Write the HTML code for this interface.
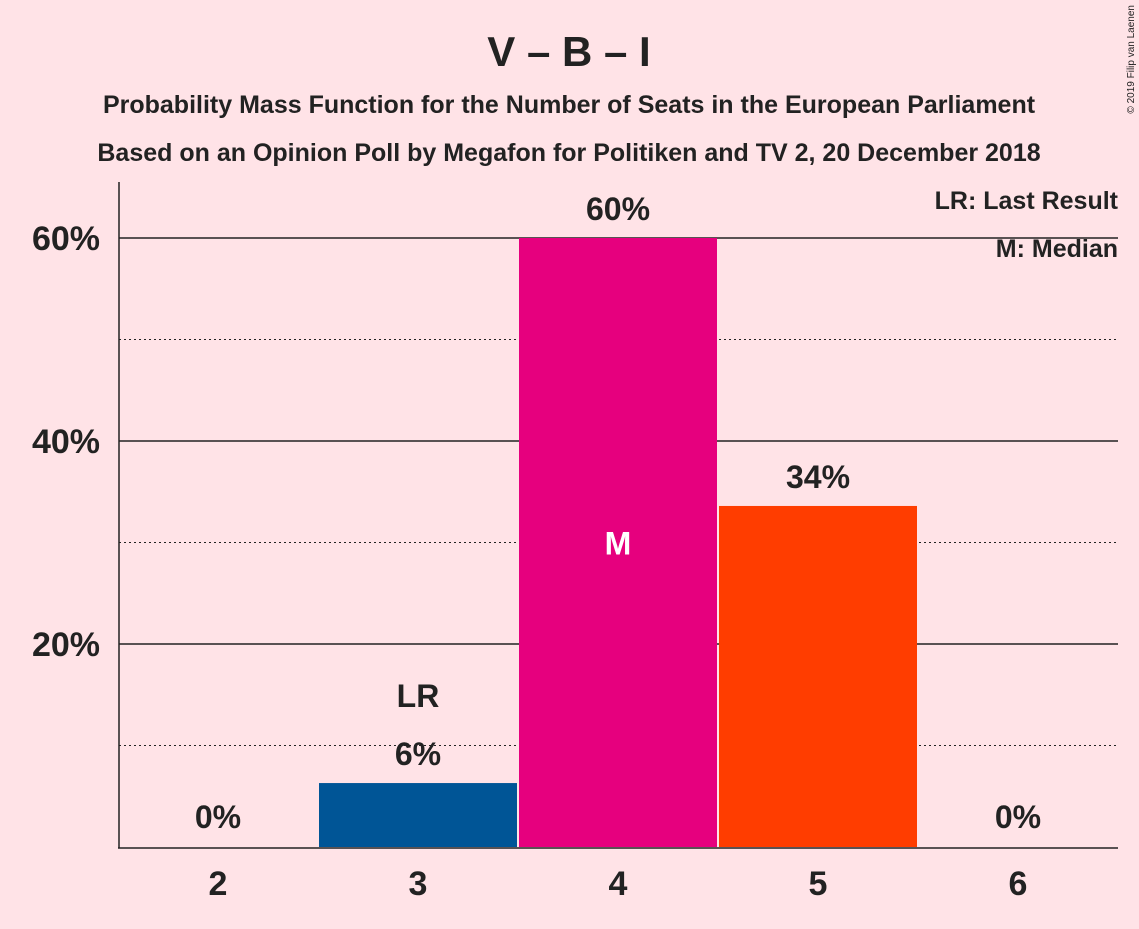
<!DOCTYPE html>
<html><head><meta charset="utf-8"><style>
body{margin:0;background:#ffe3e7;font-family:"Liberation Sans",sans-serif;}
svg text{font-family:"Liberation Sans",sans-serif;fill:#222;}
</style></head><body>
<svg width="1139" height="924" viewBox="0 0 1139 924">
<rect width="1139" height="924" fill="#ffe3e7"/>
<text x="569" y="66" text-anchor="middle" font-size="42" font-weight="bold">V – B – I</text>
<text x="569" y="113" text-anchor="middle" font-size="25" font-weight="bold">Probability Mass Function for the Number of Seats in the European Parliament</text>
<text x="569" y="161" text-anchor="middle" font-size="25" font-weight="bold">Based on an Opinion Poll by Megafon for Politiken and TV 2, 20 December 2018</text>
<text x="1134" y="5" font-size="10" transform="rotate(-90 1134 5)" text-anchor="end">© 2019 Filip van Laenen</text>
<g id="grid"></g>
<g id="bars"></g>
<line x1="119" y1="182" x2="119" y2="848" stroke="#222" stroke-width="1.5"/>
<line x1="118" y1="848" x2="1118" y2="848" stroke="#222" stroke-width="1.5"/>
<text x="1118" y="209" text-anchor="end" font-size="25" font-weight="bold">LR: Last Result</text>
<text x="1118" y="257" text-anchor="end" font-size="25" font-weight="bold">M: Median</text>
</svg>
<script>
const categories=[2,3,4,5,6];
const values=[0,6.3,60,33.6,0];
const labels=["0%","6%","60%","34%","0%"];
const colors=["#e6007e","#005596","#e6007e","#ff3d00","#e6007e"];
const yTicks=[20,40,60];
const yMinor=[10,30,50];
const lastResult=3, median=4;
const ns="http://www.w3.org/2000/svg";
const y=v=>847-v*10.15;
const x=i=>218+i*200;
function mk(t,a,p){const e=document.createElementNS(ns,t);for(const k in a)e.setAttribute(k,a[k]);p.appendChild(e);return e;}
const g=document.getElementById('grid'),b=document.getElementById('bars');
yMinor.forEach(v=>{const l=mk('line',{x1:119,x2:1118,y1:y(v),y2:y(v),stroke:'#222','stroke-dasharray':'2,3'},g);

});
yTicks.forEach(v=>{const l=mk('line',{x1:119,x2:1118,y1:y(v),y2:y(v),stroke:'#222','stroke-width':1.5},g);


const t=mk('text',{x:100,y:y(v)+12,'text-anchor':'end','font-size':34,'font-weight':'bold'},g);t.textContent=v+'%';

});
categories.forEach((c,i)=>{
 if(values[i]>0){const r=mk('rect',{x:x(i)-99,y:y(values[i]),width:198,height:847-y(values[i]),fill:colors[i]},b);
 
 }
 const t=mk('text',{x:x(i),y:y(values[i])-18,'text-anchor':'middle','font-size':32,'font-weight':'bold'},b);t.textContent=labels[i];
 if(values[i]==0)t.setAttribute('y',828);
 
 
 const xl=mk('text',{x:x(i),y:895,'text-anchor':'middle','font-size':34,'font-weight':'bold'},b);xl.textContent=c;
 
 
 if(c===lastResult){const l=mk('text',{x:x(i),y:y(values[i])-76,'text-anchor':'middle','font-size':32,'font-weight':'bold'},b);l.textContent='LR';
 
 }
 if(c===median){const m=mk('text',{x:x(i),y:y(values[i]/2)+12,'text-anchor':'middle','font-size':32,'font-weight':'bold',style:'fill:#fff'},b);m.textContent='M';
 
 }
});
</script>
</body></html>
